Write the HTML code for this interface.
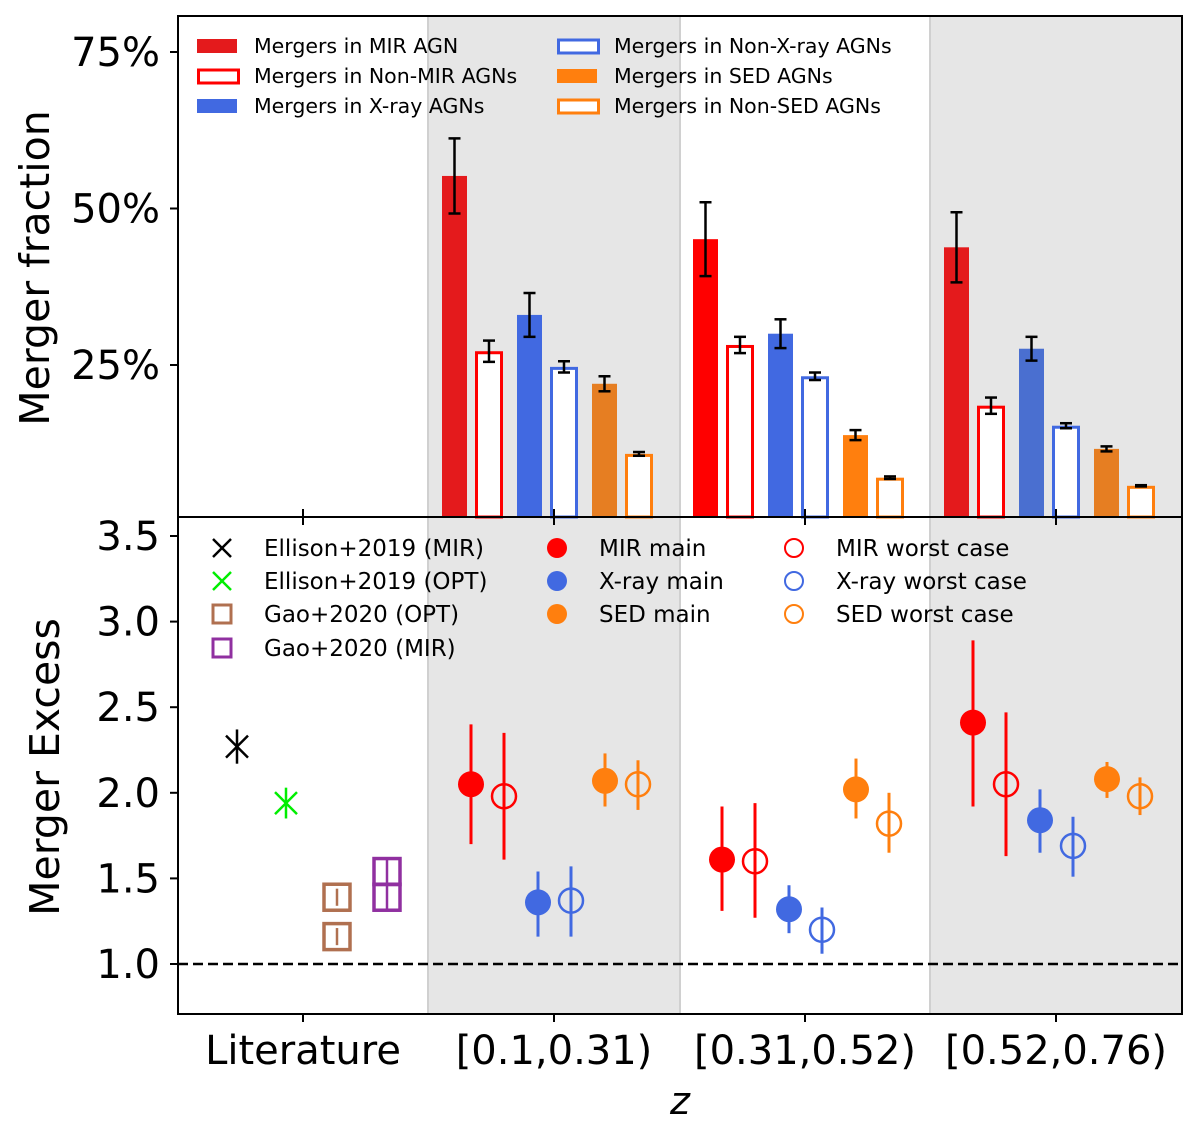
<!DOCTYPE html>
<html><head><meta charset="utf-8"><style>
body{margin:0;background:#fff;}
svg{display:block;font-family:"DejaVu Sans","Liberation Sans",sans-serif;}
</style></head><body>
<svg id="c" width="1200" height="1141"></svg>
<script>
// ---- data ----
const groups=["[0.1,0.31)","[0.31,0.52)","[0.52,0.76)"];
const barSeries=["MIR","nonMIR","Xray","nonXray","SED","nonSED"];
const barVals=[[55.2,27.2,33.0,24.7,22.0,10.8],[45.1,28.2,30.0,23.2,13.8,7.0],[43.8,18.5,27.6,15.3,11.6,5.7]];
const barErr=[[6.0,1.7,3.5,0.9,1.2,0.3],[5.9,1.3,2.3,0.6,0.8,0.2],[5.6,1.3,1.9,0.4,0.4,0.1]];
const topTicks=[25,50,75];
const ptSeries=["MIR main","MIR worst","X-ray main","X-ray worst","SED main","SED worst"];
const ptVals=[[2.05,1.98,1.36,1.37,2.07,2.05],[1.61,1.60,1.32,1.20,2.02,1.82],[2.41,2.05,1.84,1.69,2.08,1.98]];
const ptHi=[[2.40,2.35,1.54,1.57,2.23,2.19],[1.92,1.94,1.46,1.33,2.20,2.00],[2.89,2.47,2.02,1.86,2.18,2.09]];
const ptLo=[[1.70,1.61,1.16,1.16,1.92,1.90],[1.31,1.27,1.18,1.06,1.85,1.65],[1.92,1.63,1.65,1.51,1.97,1.87]];
const botTicks=[1.0,1.5,2.0,2.5,3.0,3.5];
const litVals=[2.27,1.94,1.39,1.16,1.54,1.39];
const litErr=[0.1,0.09,0.05,0.05,0.07,0.07];

const svg=document.getElementById('c');
const NS='http://www.w3.org/2000/svg';
function el(t,a,name,p){const e=document.createElementNS(NS,t);for(const k in a)e.setAttribute(k,a[k]);


(p||svg).appendChild(e);return e;}
const L=178,R=1182,T=16,M=517,B=1014;
const cx=i=>554+251*i;
const yT=v=>521.5-v*6.26;
const yB=v=>964-(v-1)*171.2;
[0,2].forEach(i=>{el('rect',{x:428+251*i,y:T,width:252,height:B-T,fill:'#e6e6e6'},'shaded-band');});
[428,680,930].forEach(x=>el('line',{x1:x,x2:x,y1:T,y2:B,stroke:'#d0d0d0','stroke-width':2},'band-edge'));
// bars
const off=[-100,-67,-25,8,50,83];
const cols=[['#e41a1c','#ff0000','#e41a1c'],['red','red','red'],['#4169e1','#4169e1','#4a6fd0'],['#4169e1','#4169e1','#4169e1'],['#e67e22','#ff7f0e','#e67e22'],['#ff7f0e','#ff7f0e','#ff7f0e']];
groups.forEach((g,gi)=>{barVals[gi].forEach((v,si)=>{
 const x=cx(gi)+off[si]-12,y=yT(v),filled=si%2==0;
 el('rect',filled?{x,y,width:25,height:M-y,fill:cols[si][gi]}:{x:x+1.5,y:y+1.5,width:25,height:M-y-1.5,fill:'#fff',stroke:cols[si][gi],'stroke-width':3},'bar-'+barSeries[si]+'-'+gi);
 const xc=x+12.5+(filled?0:1.5),e=barErr[gi][si];
 el('line',{x1:xc,x2:xc,y1:yT(v+e),y2:yT(v-e),stroke:'#000','stroke-width':2.5},'bar-error');
 [v+e,v-e].forEach(w=>el('line',{x1:xc-6,x2:xc+6,y1:yT(w),y2:yT(w),stroke:'#000','stroke-width':2.5},'bar-error-cap'));
});});
// points
const pc=['red','red','#4169e1','#4169e1','#ff7f0e','#ff7f0e'];
const poff=[-83,-50,-16,17,51,84];
groups.forEach((g,gi)=>{ptVals[gi].forEach((v,si)=>{
 const x=cx(gi)+poff[si];
 el('line',{x1:x,x2:x,y1:yB(ptHi[gi][si]),y2:yB(ptLo[gi][si]),stroke:pc[si],'stroke-width':3},'point-error');
 el('circle',si%2==0?{cx:x,cy:yB(v),r:13,fill:pc[si]}:{cx:x,cy:yB(v),r:12,fill:'none',stroke:pc[si],'stroke-width':2.5},'point-'+ptSeries[si].replace(/ /g,'-')+'-'+gi);
});});
// literature
function xmark(x,y,c,n){el('line',{x1:x-11,x2:x+11,y1:y-11,y2:y+11,stroke:c,'stroke-width':2.5},n);el('line',{x1:x-11,x2:x+11,y1:y+11,y2:y-11,stroke:c,'stroke-width':2.5},n);}
const litX=[237,286,337,337,387,387],litC=['#000','#00ee00','#b07050','#b07050','#9030a0','#9030a0'];
litVals.forEach((v,i)=>{const x=litX[i],y=yB(v);
 el('line',{x1:x,x2:x,y1:yB(v+litErr[i]),y2:yB(v-litErr[i]),stroke:litC[i],'stroke-width':2.5},'lit-error');
 if(i<2)xmark(x,y,litC[i],'lit-x-marker');
 else el('rect',{x:x-13,y:y-13,width:26,height:26,fill:'none',stroke:litC[i],'stroke-width':3.5},'lit-square-marker');});
el('line',{x1:L,x2:R,y1:964,y2:964,stroke:'#000','stroke-width':2.5,'stroke-dasharray':'10,5'},'baseline-dashed');
el('rect',{x:L,y:T,width:R-L,height:M-T,fill:'none',stroke:'#000','stroke-width':2},'top-frame');
el('rect',{x:L,y:M,width:R-L,height:B-M,fill:'none',stroke:'#000','stroke-width':2},'bottom-frame');
topTicks.forEach(t=>{const y=yT(t);el('line',{x1:L-8,x2:L,y1:y,y2:y,stroke:'#000','stroke-width':2},'y-tick');
 el('text',{x:L-18,y:y+14,'font-size':40,'text-anchor':'end'},'top-y-tick-label').textContent=t+'%';});
botTicks.forEach(t=>{const y=yB(t);el('line',{x1:L-8,x2:L,y1:y,y2:y,stroke:'#000','stroke-width':2},'y-tick');
 el('text',{x:L-18,y:y+14,'font-size':40,'text-anchor':'end'},'bottom-y-tick-label').textContent=t.toFixed(1);});
const xl=['Literature'].concat(groups);
xl.forEach((t,i)=>{const x=cx(i-1);
 el('line',{x1:x,x2:x,y1:B,y2:B+8,stroke:'#000','stroke-width':2},'x-tick');
 el('line',{x1:x,x2:x,y1:M-8,y2:M+8,stroke:'#000','stroke-width':2},'x-tick');
 el('text',{x:x,y:1064,'font-size':40,'text-anchor':'middle'},'x-tick-label').textContent=t;});
el('text',{x:680,y:1114,'font-size':38,'text-anchor':'middle','font-style':'italic'},'x-axis-title').textContent='z';
el('text',{x:0,y:0,'font-size':41,'text-anchor':'middle',transform:'translate(49,268) rotate(-90)'},'top-y-axis-title').textContent='Merger fraction';
el('text',{x:0,y:0,'font-size':41,'text-anchor':'middle',transform:'translate(59,767) rotate(-90)'},'bottom-y-axis-title').textContent='Merger Excess';
const tl=[[197,46,'#e41a1c',1,'Mergers in MIR AGN'],[197,76,'red',0,'Mergers in Non-MIR AGNs'],[197,106,'#4169e1',1,'Mergers in X-ray AGNs'],
[557,46,'#4169e1',0,'Mergers in Non-X-ray AGNs'],[557,76,'#ff7f0e',1,'Mergers in SED AGNs'],[557,106,'#ff7f0e',0,'Mergers in Non-SED AGNs']];
tl.forEach(r=>{el('rect',r[3]?{x:r[0],y:r[1]-7,width:40,height:14,fill:r[2]}:{x:r[0]+1.5,y:r[1]-6,width:40,height:13,fill:'#fff',stroke:r[2],'stroke-width':3},'legend-swatch');
 el('text',{x:r[0]+57,y:r[1]+7,'font-size':20.5},'legend-label').textContent=r[4];});
const bl=[[222,548,'x','#000','Ellison+2019 (MIR)'],[222,581,'x','#00ee00','Ellison+2019 (OPT)'],[222,614,'s','#b07050','Gao+2020 (OPT)'],[222,648,'s','#9030a0','Gao+2020 (MIR)'],
[557,548,'f','red','MIR main'],[557,581,'f','#4169e1','X-ray main'],[557,614,'f','#ff7f0e','SED main'],
[794,548,'o','red','MIR worst case'],[794,581,'o','#4169e1','X-ray worst case'],[794,614,'o','#ff7f0e','SED worst case']];
bl.forEach(r=>{const [x,y,m,c,t]=r;
 if(m=='x'){el('line',{x1:x-9,x2:x+9,y1:y-9,y2:y+9,stroke:c,'stroke-width':2.5},'legend-marker');el('line',{x1:x-9,x2:x+9,y1:y+9,y2:y-9,stroke:c,'stroke-width':2.5},'legend-marker');}
 else if(m=='s')el('rect',{x:x-9,y:y-9,width:18,height:18,fill:'none',stroke:c,'stroke-width':3},'legend-marker');
 else if(m=='f')el('circle',{cx:x,cy:y,r:10,fill:c},'legend-marker');
 else el('circle',{cx:x,cy:y,r:9,fill:'none',stroke:c,'stroke-width':2},'legend-marker');
 el('text',{x:x+42,y:y+8,'font-size':23},'legend-label').textContent=t;});
</script>
</body></html>
